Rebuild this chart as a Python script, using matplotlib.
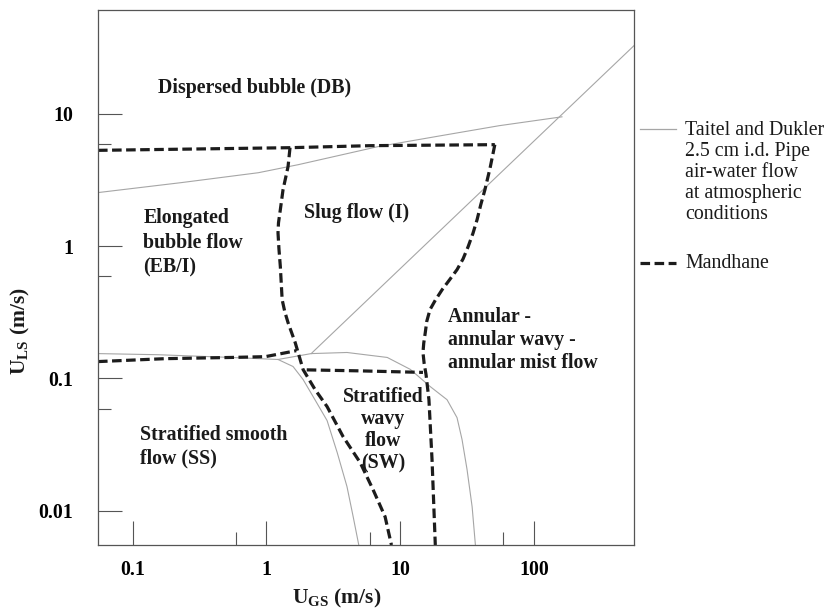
import matplotlib
matplotlib.use('Agg')
import matplotlib.pyplot as plt
from matplotlib.ticker import FixedLocator, NullFormatter
from matplotlib.lines import Line2D

plt.rcParams['font.family'] = ['Liberation Serif', 'DejaVu Serif']
plt.rcParams['mathtext.fontset'] = 'custom'
plt.rcParams['mathtext.rm'] = 'Liberation Serif'
plt.rcParams['mathtext.bf'] = 'Liberation Serif:bold'

# --- Taitel and Dukler (thin grey) boundaries ---
td_db_x = [0.055, 0.23, 0.87, 1.73, 6.8, 20.2, 55, 162]
td_db_y = [2.54, 3.02, 3.59, 4.13, 5.65, 6.84, 8.14, 9.5]

td_ann_x = [2.16, 560]
td_ann_y = [0.154, 32.8]

td_strat_x = [0.055, 0.155, 0.545, 1.22, 2.16, 4.0, 8.0, 11.9, 16.7, 22.4, 26.6, 29.0, 31.6, 34.5, 36.5]
td_strat_y = [0.154, 0.151, 0.144, 0.139, 0.154, 0.157, 0.144, 0.117, 0.087, 0.069, 0.0505, 0.0345, 0.0205, 0.0107, 0.0055]

td_ss_x = [1.22, 1.58, 1.88, 2.23, 2.84, 3.38, 4.0, 4.45, 4.9]
td_ss_y = [0.139, 0.123, 0.098, 0.073, 0.048, 0.0275, 0.0152, 0.009, 0.0055]

# --- Mandhane (dashed) boundaries ---
md_top_x = [0.055, 1.5, 6.0, 51]
md_top_y = [5.3, 5.55, 5.75, 5.85]

md_right_x = [51, 47, 43, 40, 37.6, 35, 32.2, 29.5, 26.6, 23.5, 20.6, 18.3, 16.7, 15.8, 15.4, 15.0, 14.8, 15.1, 15.6, 16.4, 17.3, 18.3]
md_right_y = [5.85, 3.9, 2.67, 2.05, 1.59, 1.25, 0.99, 0.80, 0.664, 0.56, 0.469, 0.39, 0.331, 0.27, 0.222, 0.185, 0.157, 0.13, 0.107, 0.069, 0.0243, 0.0055]

md_left_x = [1.5, 1.45, 1.33, 1.27, 1.23, 1.22, 1.24, 1.27, 1.31, 1.37, 1.45, 1.64, 1.88, 2.31, 2.84, 3.74, 5.02, 6.27, 7.71, 8.6]
md_left_y = [5.55, 3.99, 2.67, 1.89, 1.5, 1.26, 0.95, 0.70, 0.394, 0.32, 0.264, 0.1865, 0.1165, 0.0823, 0.0612, 0.0363, 0.0231, 0.0144, 0.009, 0.0055]

md_eb_x = [0.055, 0.175, 0.545, 0.98, 1.29, 1.67]
md_eb_y = [0.134, 0.141, 0.144, 0.146, 0.154, 0.162]

md_sw_x = [2.0, 5.0, 14.8]
md_sw_y = [0.116, 0.114, 0.111]

x_ticks = [0.1, 1, 10, 100]
x_ticklabels = ['0.1', '1', '10', '100']
y_ticks = [0.01, 0.1, 1, 10]
y_ticklabels = ['0.01', '0.1', '1', '10']
x_minor = [0.59, 5.9, 59]
y_minor = [0.059, 0.59, 5.9]

GREY = '#a6a6a6'
DARK = '#1c1c1c'
DASH = (0, (3, 1.4))
FS = 14.3

fig = plt.figure(figsize=(8.26, 6.15), dpi=100)
ax = fig.add_axes([98/826, 70/615, 536/826, 535/615])
ax.set_xscale('log')
ax.set_yscale('log')
ax.set_xlim(0.055, 560)
ax.set_ylim(0.0055, 61)

for xs, ys in [(td_db_x, td_db_y), (td_ann_x, td_ann_y), (td_strat_x, td_strat_y), (td_ss_x, td_ss_y)]:
    ax.plot(xs, ys, color=GREY, lw=0.8)

for xs, ys in [(md_top_x, md_top_y), (md_right_x, md_right_y), (md_left_x, md_left_y),
               (md_eb_x, md_eb_y), (md_sw_x, md_sw_y)]:
    ax.plot(xs, ys, color=DARK, lw=2.3, linestyle=DASH)

# --- ticks ---
ax.xaxis.set_major_locator(FixedLocator(x_ticks))
ax.yaxis.set_major_locator(FixedLocator(y_ticks))
ax.set_xticklabels(x_ticklabels)
ax.set_yticklabels(y_ticklabels)
ax.xaxis.set_minor_locator(FixedLocator(x_minor))
ax.yaxis.set_minor_locator(FixedLocator(y_minor))
ax.xaxis.set_minor_formatter(NullFormatter())
ax.yaxis.set_minor_formatter(NullFormatter())
ax.tick_params(which='major', direction='in', length=17, width=0.8, color='#555555',
               labelsize=FS, top=False, right=False)
ax.tick_params(which='minor', direction='in', length=9.5, width=0.8, color='#555555',
               top=False, right=False)
ax.tick_params(axis='x', which='major', pad=11)
ax.tick_params(axis='y', which='major', pad=18)
for lab in ax.get_xticklabels() + ax.get_yticklabels():
    lab.set_fontweight('bold')
for sp in ax.spines.values():
    sp.set_color('#555555')
    sp.set_linewidth(0.9)

# --- region labels ---
bold = dict(fontsize=FS, fontweight='bold', color='#1a1a1a')
ax.text(0.155, 15.8, 'Dispersed bubble (DB)', ha='left', va='center', **bold)
ax.text(0.12, 1.06, 'Elongated\nbubble flow\n(EB/I)', ha='left', va='center', linespacing=1.33, **bold)
ax.text(1.91, 1.79, 'Slug flow (I)', ha='left', va='center', **bold)
ax.text(22.8, 0.195, 'Annular -\nannular wavy -\nannular mist flow', ha='left', va='center', linespacing=1.22, **bold)
ax.text(7.45, 0.0405, 'Stratified\nwavy\nflow\n(SW)', ha='center', va='center', linespacing=1.14, **bold)
ax.text(0.114, 0.0305, 'Stratified smooth\nflow (SS)', ha='left', va='center', linespacing=1.22, **bold)

# --- axis labels ---
fig.text(337/826, 1 - 598/615, r'U$_{\mathbf{GS}}$ (m/s)', ha='center', va='center',
         fontsize=15.5, fontweight='bold', color='#1a1a1a')
fig.text(20/826, 1 - 331/615, r'U$_{\mathbf{LS}}$ (m/s)', ha='center', va='center', rotation=90,
         fontsize=15.5, fontweight='bold', color='#1a1a1a')

# --- legend outside the axes ---
fig.add_artist(Line2D([640/826, 676/826], [1 - 129/615, 1 - 129/615], color=GREY, lw=0.9))
fig.text(685/826, 1 - 121/615,
         'Taitel and Dukler\n2.5 cm i.d. Pipe\nair-water flow\nat atmospheric\nconditions',
         ha='left', va='top', fontsize=FS, linespacing=1.15, color='#1a1a1a')
fig.add_artist(Line2D([640/826, 676/826], [1 - 263/615, 1 - 263/615], color=DARK, lw=2.3, linestyle=DASH))
fig.text(685/826, 1 - 263/615, 'Mandhane', ha='left', va='center', fontsize=FS, color='#1a1a1a')

fig.savefig('out.png', dpi=100)
